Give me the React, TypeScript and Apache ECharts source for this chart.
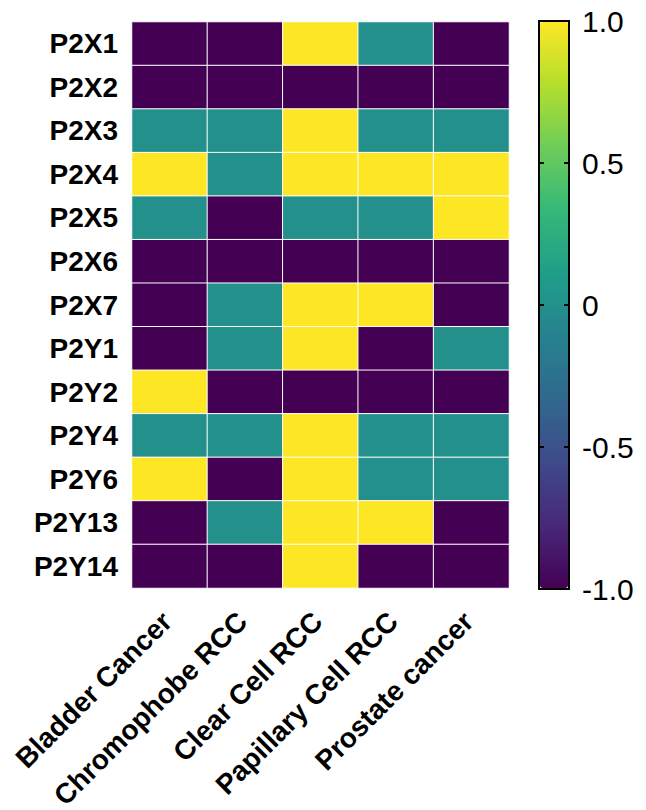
import React, { useEffect, useRef } from "react";
import * as echarts from "echarts";

const cancers = ["Bladder Cancer", "Chromophobe RCC", "Clear Cell RCC", "Papillary Cell RCC", "Prostate cancer"];
const receptors = ["P2X1", "P2X2", "P2X3", "P2X4", "P2X5", "P2X6", "P2X7", "P2Y1", "P2Y2", "P2Y4", "P2Y6", "P2Y13", "P2Y14"];
// values per receptor row, ordered as cancers
const values: number[][] = [
  [-1, -1, 1, 0, -1],
  [-1, -1, -1, -1, -1],
  [0, 0, 1, 0, 0],
  [1, 0, 1, 1, 1],
  [0, -1, 0, 0, 1],
  [-1, -1, -1, -1, -1],
  [-1, 0, 1, 1, -1],
  [-1, 0, 1, -1, 0],
  [1, -1, -1, -1, -1],
  [0, 0, 1, 0, 0],
  [1, -1, 1, 0, 0],
  [-1, 0, 1, 1, -1],
  [-1, -1, 1, -1, -1],
];
const viridis = ["#440154", "#482878", "#3E4A89", "#31688E", "#26828E", "#1F9E89", "#35B779", "#6DCD59", "#B4DE2C", "#FDE725"];
const colorbarMin = -1;
const colorbarMax = 1;

export default function App() {
  const ref = useRef<HTMLDivElement>(null);
  useEffect(() => {
    document.body.style.margin = "0";
    if (!ref.current) return;
    const chart = echarts.init(ref.current, undefined, { renderer: "svg" });
    const data: number[][] = [];
    values.forEach((row, yi) => row.forEach((v, xi) => data.push([xi, yi, v])));
    const font = "'Liberation Sans', Arial, sans-serif";
    const black = { color: "#000", width: 2 };
    const frameAxis = (position: string) => ({
      type: "value",
      gridIndex: 1,
      min: 0,
      max: 1,
      position,
      z: 10,
      axisLine: { show: true, onZero: false, lineStyle: black },
      axisTick: { show: false },
      axisLabel: { show: false },
      splitLine: { show: false },
    });
    chart.setOption({
      animation: false,
      backgroundColor: "#fff",
      textStyle: { fontFamily: font },
      grid: [
        { left: 132, top: 22, width: 377, height: 566, outerBoundsMode: "none", containLabel: false },
        { left: 539, top: 21, width: 30, height: 568, outerBoundsMode: "none", containLabel: false },
      ],
      xAxis: [
        {
          type: "category",
          data: cancers,
          gridIndex: 0,
          axisLine: { show: false },
          axisTick: { show: false },
          axisLabel: {
            rotate: 45,
            fontSize: 28,
            fontWeight: "bold",
            color: "#000",
            margin: 26,
            padding: [0, 4, 0, 0],
            fontFamily: font,
            interval: 0,
          },
        },
        frameAxis("bottom"),
        frameAxis("top"),
      ],
      yAxis: [
        {
          type: "category",
          data: receptors,
          inverse: true,
          gridIndex: 0,
          axisLine: { show: false },
          axisTick: { show: false },
          axisLabel: { fontSize: 28, fontWeight: "bold", color: "#000", margin: 14, fontFamily: font },
        },
        {
          type: "value",
          gridIndex: 1,
          position: "right",
          min: colorbarMin,
          max: colorbarMax,
          interval: 0.5,
          z: 10,
          splitLine: { show: false },
          axisLine: { show: true, onZero: false, lineStyle: black },
          axisTick: { show: true, inside: true, length: 5, lineStyle: black },
          axisLabel: {
            fontSize: 30,
            color: "#000",
            margin: 13,
            fontFamily: font,
            formatter: (v: number) => (v === 0 ? "0" : v.toFixed(1)),
          },
        },
        {
          type: "value",
          gridIndex: 1,
          position: "left",
          min: colorbarMin,
          max: colorbarMax,
          interval: 0.5,
          z: 10,
          splitLine: { show: false },
          axisLine: { show: true, onZero: false, lineStyle: black },
          axisTick: { show: true, inside: true, length: 5, lineStyle: black },
          axisLabel: { show: false },
        },
      ],
      visualMap: {
        type: "continuous",
        min: colorbarMin,
        max: colorbarMax,
        seriesIndex: 0,
        show: true,
        calculable: false,
        hoverLink: false,
        left: 540,
        top: 22,
        itemWidth: 28,
        itemHeight: 566,
        padding: 0,
        text: null,
        z: 1,
        inRange: { color: viridis },
      },
      series: [
        {
          type: "heatmap",
          xAxisIndex: 0,
          yAxisIndex: 0,
          data,
          itemStyle: { borderColor: "#fff", borderWidth: 1 },
        },
        { type: "line", xAxisIndex: 1, yAxisIndex: 1, data: [], silent: true },
      ],
    });
    return () => chart.dispose();
  }, []);
  return <div ref={ref} style={{ width: 646, height: 810 }} />;
}
